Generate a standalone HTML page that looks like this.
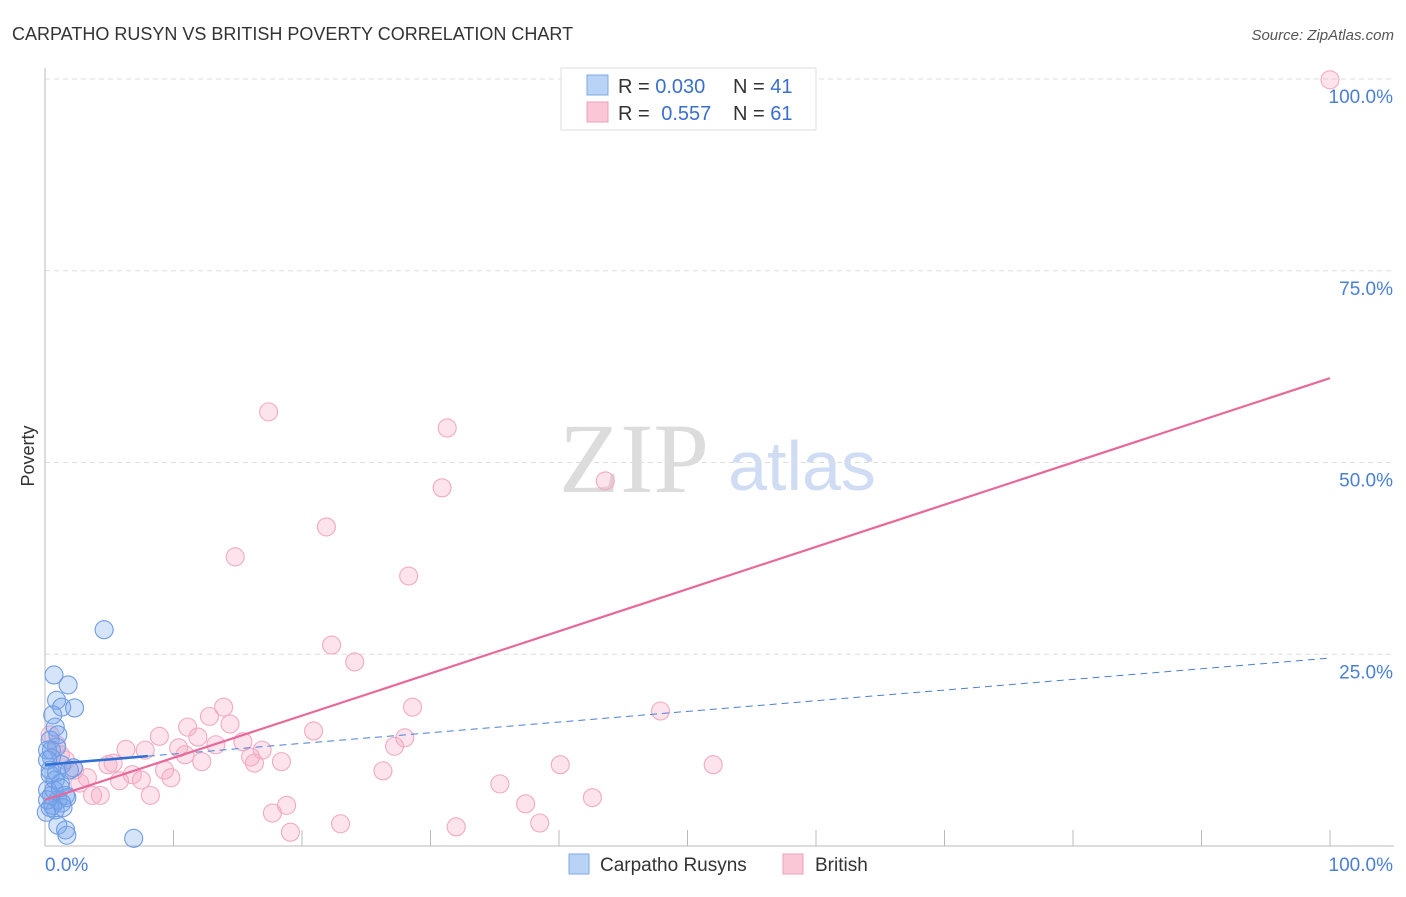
<!DOCTYPE html>
<html><head><meta charset="utf-8"><style>
body{margin:0;background:#fff;font-family:"Liberation Sans",sans-serif;}
svg text{font-family:"Liberation Sans",sans-serif;}
</style></head><body>
<svg width="1406" height="892" xmlns="http://www.w3.org/2000/svg">
<text x="12" y="40" font-size="18" fill="#333">CARPATHO RUSYN VS BRITISH POVERTY CORRELATION CHART</text>
<text x="1394" y="40" font-size="15" fill="#555" text-anchor="end" font-style="italic">Source: ZipAtlas.com</text>
<g>
<text x="634" y="492" font-size="100" fill="#dcdcdc" text-anchor="middle" style="font-family:'Liberation Serif',serif">ZIP</text>
<text x="802" y="490" font-size="70" fill="#cfdcf3" text-anchor="middle">atlas</text>
</g>
<g id="grid"></g>
<g id="axes"></g>
<g id="marks"></g>
<text transform="translate(34,456) rotate(-90)" font-size="18" fill="#333" text-anchor="middle">Poverty</text>
<g>
<rect x="561" y="68" width="255" height="62" fill="#fff" stroke="#ddd"/>
<rect x="587" y="75" width="21" height="20" fill="#b9d3f6" stroke="#7fa9e6"/>
<rect x="587" y="102" width="21" height="20" fill="#f9c7d6" stroke="#f0a0ba"/>
<text x="618" y="93" font-size="20" fill="#333">R = <tspan fill="#3a6fd0">0.030</tspan></text>
<text x="733" y="93" font-size="20" fill="#333">N = <tspan fill="#3a6fd0">41</tspan></text>
<text x="618" y="120" font-size="20" fill="#333">R = <tspan fill="#3a6fd0" dx="6">0.557</tspan></text>
<text x="733" y="120" font-size="20" fill="#333">N = <tspan fill="#3a6fd0">61</tspan></text>
</g>
<g>
<rect x="569" y="854" width="20" height="20" fill="#b9d3f6" stroke="#7fa9e6"/>
<text x="600" y="871" font-size="19" fill="#333">Carpatho Rusyns</text>
<rect x="783" y="854" width="20" height="20" fill="#f9c7d6" stroke="#f0a0ba"/>
<text x="815" y="871" font-size="19" fill="#333">British</text>
</g>
</svg>
<script>
const blueX=[4.6,0.7,1.8,0.9,1.3,2.3,0.6,0.8,0.4,0.9,0.2,0.5,1.3,2.2,0.4,0.8,1.2,0.2,0.5,1.0,1.6,0.6,1.3,1.7,0.4,0.8,1.4,1.0,1.6,1.7,6.9,0.2,0.4,0.9,0.7,0.2,1.2,0.5,1.0,1.9,0.1];
const blueY=[28.2,22.3,21.0,19.0,18.1,18.0,17.1,15.5,13.8,12.9,12.5,11.5,10.6,10.2,9.3,8.6,8.2,7.3,6.6,6.0,6.6,5.3,5.6,6.3,5.0,4.7,5.0,2.7,2.1,1.4,1.0,11.2,9.9,9.6,7.3,6.0,7.6,12.5,14.5,9.9,4.4];
const pinkX=[100,17.4,31.3,30.9,43.6,14.8,21.9,28.3,22.3,24.1,47.9,28.6,13.9,12.8,11.1,14.4,8.9,6.3,7.8,11.9,20.9,15.4,16.9,10.4,13.3,10.9,16.0,16.3,18.4,12.2,27.2,28.0,4.9,5.3,2.3,1.2,0.9,9.3,6.8,7.5,3.3,5.8,9.8,2.7,8.2,3.7,4.3,26.3,40.1,52.0,35.4,37.4,42.6,18.8,17.7,19.1,23.0,32.0,38.5,1.6,0.4];
const pinkY=[99.9,56.6,54.5,46.7,47.6,37.7,41.6,35.2,26.2,24.0,17.6,18.1,18.1,16.9,15.5,15.9,14.3,12.6,12.5,14.2,15.0,13.6,12.5,12.8,13.2,11.9,11.6,10.8,11.0,11.0,13.0,14.1,10.6,10.8,9.9,11.9,13.2,9.9,9.3,8.6,8.9,8.5,8.9,8.2,6.6,6.6,6.6,9.8,10.6,10.6,8.1,5.5,6.3,5.3,4.3,1.8,2.9,2.5,3.0,11.2,14.5];
const yTicks=[25,50,75,100];
const yTickLabels=["25.0%","50.0%","75.0%","100.0%"];
const xTickLabels=["0.0%","100.0%"];
const blueTrend=[10.6,24.5];
const pinkTrend=[6.0,61.0];
const NS="http://www.w3.org/2000/svg";
const sx=v=>45+v*12.85, sy=v=>846-v*7.67;
function mk(tag,attrs,parent){const e=document.createElementNS(NS,tag);for(const k in attrs)e.setAttribute(k,attrs[k]);document.getElementById(parent).appendChild(e);return e;}
yTicks.forEach((t,i)=>{
 const l=mk('line',{x1:45,x2:1394,y1:sy(t),y2:sy(t),stroke:'#ddd','stroke-dasharray':'5,4'},'grid');
 
 
 const tx=mk('text',{x:1393,y:sy(t)+24,'font-size':19,fill:'#4a7fd4','text-anchor':'end'},'axes');
 tx.textContent=yTickLabels[i];
 
 
});
let a=mk('line',{x1:45,x2:45,y1:68,y2:846,stroke:'#bbb'},'axes');


a=mk('line',{x1:45,x2:1394,y1:846,y2:846,stroke:'#bbb'},'axes');


for(let i=1;i<=10;i++){const t=mk('line',{x1:sx(i*10),x2:sx(i*10),y1:846,y2:830,stroke:'#bbb'},'axes');
 
 }
let xl=mk('text',{x:45,y:871,'font-size':19,fill:'#4a7fd4'},'axes');xl.textContent=xTickLabels[0];


xl=mk('text',{x:1393,y:871,'font-size':19,fill:'#4a7fd4','text-anchor':'end'},'axes');xl.textContent=xTickLabels[1];


pinkX.forEach((x,i)=>{const c=mk('circle',{cx:sx(x),cy:sy(pinkY[i]),r:9,fill:'rgba(246,170,196,0.33)',stroke:'#f2aac2','stroke-width':1.1},'marks');
 
 });
blueX.forEach((x,i)=>{const c=mk('circle',{cx:sx(x),cy:sy(blueY[i]),r:9,fill:'rgba(120,165,235,0.3)',stroke:'#6f9ce3','stroke-width':1.1},'marks');
 
 });
const bAt=x=>blueTrend[0]+(blueTrend[1]-blueTrend[0])*x/100;
let l=mk('line',{x1:sx(8),y1:sy(bAt(8)),x2:sx(100),y2:sy(bAt(100)),stroke:'#4a7fd4','stroke-width':1,'stroke-dasharray':'7,5'},'marks');


l=mk('line',{x1:sx(0),y1:sy(bAt(0)),x2:sx(8),y2:sy(bAt(8)),stroke:'#2f6fd6','stroke-width':2.5},'marks');


l=mk('line',{x1:sx(0),y1:sy(pinkTrend[0]),x2:sx(100),y2:sy(pinkTrend[1]),stroke:'#e8689a','stroke-width':2.2},'marks');


</script>
</body></html>
